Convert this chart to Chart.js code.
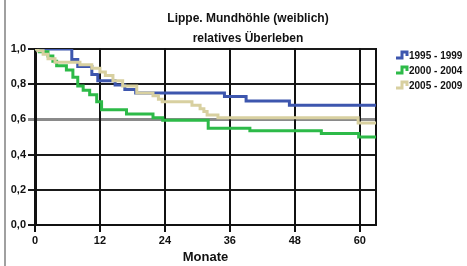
<!DOCTYPE html>
<html lang="de">
<head>
<meta charset="utf-8">
<title>Lippe. Mundhöhle (weiblich)</title>
<script src="https://cdn.jsdelivr.net/npm/chart.js@4.4.1/dist/chart.umd.min.js"></script>
<style>
    html, body { margin: 0; padding: 0; background: #fff; }
    #wrap { width: 467px; height: 266px; }
</style>
</head>
<body>
<div id="wrap"><canvas id="chart-km" width="467" height="266"></canvas></div>
<script>
// Kaplan-Meier Stufen (Monat, relatives Überleben)
const seriesLabels = ['1995 - 1999', '2000 - 2004', '2005 - 2009'];
const seriesColors = ['#3d56ae', '#2dba48', '#d8d0a0'];

const months95 = [0, 6.8, 7.9, 10.5, 11.6, 14.8, 16.6, 18.6, 35, 39, 47, 63];
const surv95   = [1.0, 0.94, 0.90, 0.855, 0.82, 0.795, 0.77, 0.75, 0.73, 0.705, 0.68, 0.68];

const months00 = [0, 0.8, 2.4, 3.3, 4, 5.8, 7, 7.9, 8.9, 10.1, 11.4, 12.3, 16.9, 21.8, 23.6, 32, 39.7, 52.9, 59.8, 63];
const surv00   = [1.0, 0.985, 0.96, 0.93, 0.905, 0.88, 0.84, 0.79, 0.765, 0.74, 0.70, 0.655, 0.63, 0.61, 0.595, 0.55, 0.535, 0.52, 0.50, 0.50];

const months05 = [0, 0.5, 1.5, 2.4, 3.7, 8.3, 10.5, 12, 13, 14.4, 16.2, 18.8, 21.8, 22.8, 23.5, 29, 30.5, 31.2, 31.8, 33.8, 59.7, 63];
const surv05   = [1.0, 0.99, 0.97, 0.945, 0.925, 0.91, 0.89, 0.87, 0.85, 0.82, 0.79, 0.75, 0.735, 0.715, 0.70, 0.68, 0.66, 0.645, 0.625, 0.61, 0.58, 0.58];

const xTicks = [0, 12, 24, 36, 48, 60];
const yTicks = [0, 0.2, 0.4, 0.6, 0.8, 1.0];

const titleLines = ['Lippe. Mundhöhle (weiblich)', 'relatives Überleben'];
const FONT = '"Liberation Sans", Arial, sans-serif';

const toPoints = (xs, ys) => xs.map((m, i) => ({ x: m, y: ys[i] }));
const isRef = (v) => Math.abs(v - 0.6) < 1e-6;

// Gitter, Achsen, Titel, Legende und linker Rand
const decoPlugin = {
    id: 'deco',
    beforeDraw(chart) {
        const ctx = chart.ctx;
        ctx.save();
        ctx.fillStyle = '#a0a0a0';
        ctx.fillRect(4, 0, 2, chart.height);
        ctx.restore();
    },
    beforeDatasetsDraw(chart) {
        const ctx = chart.ctx;
        const area = chart.chartArea;
        const xs = chart.scales.x, ys = chart.scales.y;
        const L = Math.round(area.left), R = Math.round(area.right);
        const T = Math.round(area.top), B = Math.round(area.bottom);
        ctx.save();
        // waagerechte Linien mit Ticks links
        yTicks.forEach(v => {
            const py = Math.round(ys.getPixelForValue(v));
            ctx.fillStyle = isRef(v) ? '#8a8a8a' : '#1a1a1a';
            ctx.fillRect(L - 7, py - 1, R - L + 8, isRef(v) ? 3 : 2);
        });
        // senkrechte Linien mit Ticks unten
        ctx.fillStyle = '#111';
        xTicks.forEach(v => {
            const px = Math.round(xs.getPixelForValue(v));
            ctx.fillRect(px - 1, T - 1, 2, B - T + 8);
        });
        // rechter Rahmen
        ctx.fillRect(R - 1, T - 1, 2, B - T + 1);
        // Achsen
        ctx.fillRect(L - 1, T - 1, 3, B - T + 2);
        ctx.fillRect(L - 1, B - 1, R - L + 1, 2);
        ctx.restore();
    },
    afterDraw(chart) {
        const ctx = chart.ctx;
        ctx.save();

        // Titel
        ctx.fillStyle = '#111';
        ctx.font = 'bold 12px ' + FONT;
        ctx.textAlign = 'center';
        ctx.textBaseline = 'middle';
        ctx.fillText(titleLines[0], 248, 19);
        ctx.fillText(titleLines[1], 248, 39);

        // Legende mit Stufen-Symbol
        ctx.font = 'bold 10px ' + FONT;
        ctx.textAlign = 'left';
        seriesLabels.forEach((lbl, i) => {
            const y = 55 + i * 15;
            ctx.strokeStyle = seriesColors[i];
            ctx.lineWidth = 3;
            ctx.beginPath();
            ctx.moveTo(396, y + 3);
            ctx.lineTo(402, y + 3);
            ctx.lineTo(402, y - 3);
            ctx.lineTo(407, y - 3);
            ctx.lineTo(407, y + 1);
            ctx.stroke();
            ctx.fillStyle = '#111';
            ctx.fillText(lbl, 409, y + 1);
        });
        ctx.restore();
    }
};

const makeDataset = (i, xs, ys, order) => ({
    label: seriesLabels[i],
    data: toPoints(xs, ys),
    borderColor: seriesColors[i],
    backgroundColor: seriesColors[i],
    borderWidth: 3,
    pointRadius: 0,
    stepped: true,
    fill: false,
    order: order
});

new Chart(document.getElementById('chart-km'), {
    type: 'line',
    data: {
        datasets: [
            makeDataset(0, months95, surv95, 3),
            makeDataset(1, months00, surv00, 2),
            makeDataset(2, months05, surv05, 1)
        ]
    },
    options: {
        responsive: false,
        animation: false,
        devicePixelRatio: 1,
        layout: { padding: { left: 0, top: 49, right: 91, bottom: 0 } },
        plugins: {
            legend: { display: false },
            title: { display: false },
            tooltip: { enabled: false }
        },
        scales: {
            x: {
                type: 'linear',
                min: 0,
                max: 63,
                afterBuildTicks: (scale) => { scale.ticks = xTicks.map(v => ({ value: v })); },
                afterFit: (scale) => { scale.height = 41; },
                border: { display: false },
                grid: { display: false, tickLength: 7 },
                ticks: {
                    color: '#111',
                    padding: 2,
                    maxRotation: 0,
                    font: { family: FONT, size: 11, weight: 'bold' }
                },
                title: {
                    display: true,
                    text: 'Monate',
                    color: '#111',
                    padding: { top: 0, bottom: 1 },
                    font: { family: FONT, size: 13, weight: 'bold' }
                }
            },
            y: {
                min: 0,
                max: 1,
                afterBuildTicks: (scale) => { scale.ticks = yTicks.map(v => ({ value: v })); },
                afterFit: (scale) => { scale.width = 35; },
                border: { display: false },
                grid: { display: false, tickLength: 7 },
                ticks: {
                    color: '#111',
                    padding: 2,
                    font: { family: FONT, size: 11, weight: 'bold' },
                    callback: (v) => Number(v).toFixed(1).replace('.', ',')
                }
            }
        }
    },
    plugins: [decoPlugin]
});
</script>
</body>
</html>
